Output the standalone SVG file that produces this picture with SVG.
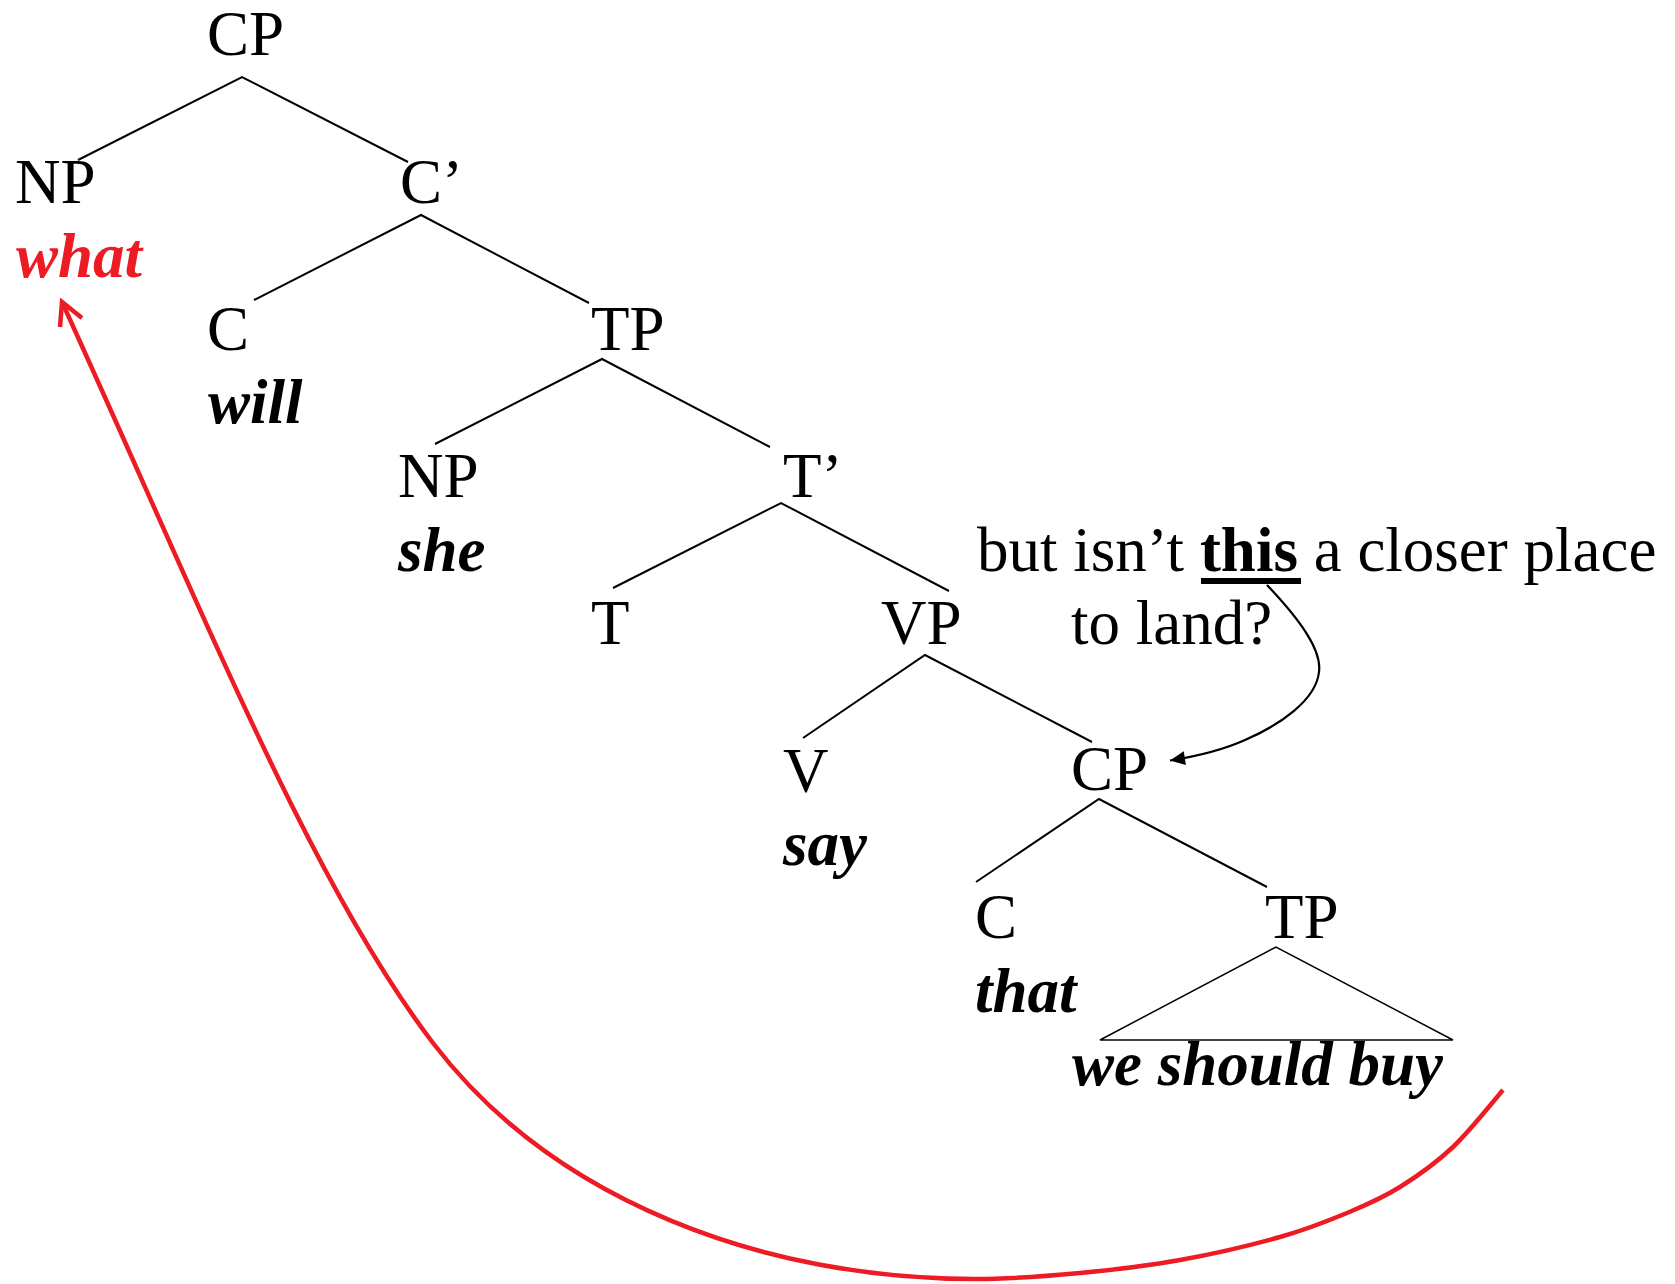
<svg xmlns="http://www.w3.org/2000/svg" width="1675" height="1284" viewBox="0 0 1675 1284">
<style>
  text { font-family: "Liberation Serif", "Times New Roman", serif; font-size: 63px; fill: #000; }
  .w { font-weight: bold; font-style: italic; }
  .red { fill: #ED1C24; }
  .edge { stroke: #000; stroke-width: 2; fill: none; stroke-linecap: butt; }
  .tri { stroke: #000; stroke-width: 1.5; fill: none; }
  .move { stroke: #ED1C24; stroke-width: 4.5; fill: none; }
  .note { stroke: #000; stroke-width: 2.2; fill: none; }
</style>
<defs>
  <marker id="blackHead" markerUnits="userSpaceOnUse" orient="auto" refX="0" refY="0" markerWidth="30" markerHeight="30" viewBox="-20 -15 30 30" overflow="visible">
    <path d="M0,0 L-15,-7 L-15,7 Z" fill="#000"/>
  </marker>
</defs>
<rect width="1675" height="1284" fill="#fff"/>

<g id="connectors">
  <path class="edge" d="M78,160 L242,77 L408,162"/>
  <path class="edge" d="M254,300 L421,215 L589,303"/>
  <path class="edge" d="M435,444 L602,359 L770,447"/>
  <path class="edge" d="M613,588 L781,503 L949,591"/>
  <path class="edge" d="M803,738 L925,655 L1092,742"/>
  <path class="edge" d="M976,882 L1099,799 L1267,887"/>
  <path class="tri" d="M1100,1040 L1276,947 L1453,1040 Z"/>
  <path class="move" d="M1503,1090 C1494.7,1099.5 1470.2,1130.8 1453,1147 C1435.8,1163.2 1417.7,1176 1400,1187 C1382.3,1198 1367,1204.7 1347,1213 C1327,1221.3 1307.8,1229.2 1280,1237 C1252.2,1244.8 1213.3,1254 1180,1260 C1146.7,1266 1114.2,1269.8 1080,1273 C1045.8,1276.2 1010,1279 975,1279 C765,1279 554.4,1202 433,1043 C311.6,884 207,620.5 62,302"/>
  <path class="move" stroke-linejoin="miter" d="M60,327 L62,302 L82,318"/>
  <path class="note" marker-end="url(#blackHead)" d="M1267,585 C1300,620 1322,650 1319,672 C1316,700 1280,725 1245,740 C1225,749 1205,755 1170,760.5"/>
</g>

<g id="node-CP1"><text x="207" y="55">CP</text></g>
<g id="node-NP1"><text x="15" y="203">NP</text><text class="w red" x="16" y="277">what</text></g>
<g id="node-Cbar"><text x="400" y="203">C’</text></g>
<g id="node-C1"><text x="207" y="350">C</text><text class="w" x="208" y="423">will</text></g>
<g id="node-TP1"><text x="591" y="350">TP</text></g>
<g id="node-NP2"><text x="398" y="497">NP</text><text class="w" x="398" y="571">she</text></g>
<g id="node-Tbar"><text x="783" y="497">T’</text></g>
<g id="node-T"><text x="591" y="644">T</text></g>
<g id="node-VP"><text x="881" y="644">VP</text></g>
<g id="node-V"><text x="783" y="792">V</text><text class="w" x="783" y="865">say</text></g>
<g id="node-CP2"><text x="1071" y="790">CP</text></g>
<g id="node-C2"><text x="975" y="938">C</text><text class="w" x="975" y="1012">that</text></g>
<g id="node-TP2"><text x="1265" y="938">TP</text><text class="w" x="1072" y="1085">we should buy</text></g>
<g id="note">
  <text x="977" y="571">but isn’t <tspan font-weight="bold">this</tspan> a closer place</text>
  <rect x="1201" y="578" width="100" height="6" fill="#000"/>
  <text x="1071" y="644">to land?</text>
</g>
</svg>
